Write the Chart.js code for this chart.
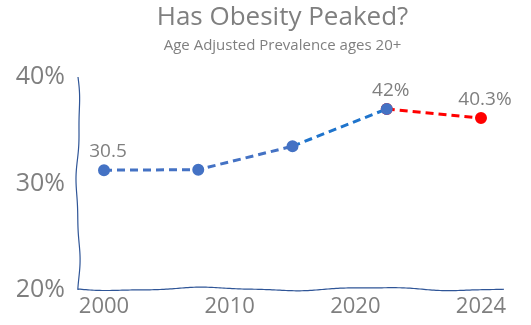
<!DOCTYPE html>
<html>
<head>
<meta charset="utf-8">
<script src="https://cdn.jsdelivr.net/npm/chart.js@4.4.1/dist/chart.umd.min.js"></script>
<style>
  html, body { margin: 0; padding: 0; background: #fff; overflow: hidden; }
  canvas { display: block; }
</style>
</head>
<body>
<canvas id="chart" width="531" height="325"></canvas>
<script>
// survey points
const surveyYears = ['2000', '2005', '2013', '2018', '2023'];
const blueValues = [30.5, 30.6, 35, 42, null];
const redValues = [null, null, null, 42, 40.3];
const pointLabels = ['30.5', '', '', '42%', '40.3%'];

// visible axis labels
const axisYears = ['2000', '2010', '2020', '2024'];
const axisPercents = [20, 30, 40];

const titleText = 'Has Obesity Peaked?';
const subtitleText = 'Age Adjusted Prevalence ages 20+';

const grey = '#7f7f7f';
const axisBlue = '#2f5597';
const fontFamily = '"Open Sans", "Noto Sans", sans-serif';

// wobbly hand-drawn axes, title and point labels
const sketchPlugin = {
    id: 'sketch',
    beforeDatasetsDraw: (chart) => {
        const { ctx, chartArea } = chart;
        const x0 = chartArea.left - 26;
        const x1 = chartArea.right + 24;
        const top = chartArea.top;
        const bottom = chartArea.bottom;
        ctx.save();
        ctx.strokeStyle = axisBlue;
        ctx.lineWidth = 1.2;
        ctx.beginPath();
        for (let y = top; y <= bottom; y += 2) {
            const dx = Math.sin((y - top) / 23) * 1.6 + Math.sin((y - top) / 9) * 0.5;
            if (y === top) ctx.moveTo(x0 + dx, y); else ctx.lineTo(x0 + dx, y);
        }
        ctx.lineTo(x0, bottom);
        for (let x = x0; x <= x1; x += 2) {
            const dy = Math.sin((x - x0) / 27) * 1.5 + Math.sin((x - x0) / 11) * 0.4;
            ctx.lineTo(x, bottom - 1 + dy);
        }
        ctx.stroke();
        ctx.restore();
    },
    afterDraw: (chart) => {
        const { ctx, chartArea } = chart;
        const cx = (chartArea.left + chartArea.right) / 2 - 10;
        ctx.save();
        ctx.fillStyle = grey;
        ctx.textAlign = 'center';
        ctx.textBaseline = 'middle';
        ctx.font = '26px ' + fontFamily;
        ctx.fillText(titleText, cx, 18);
        ctx.font = '15px ' + fontFamily;
        ctx.fillText(subtitleText, cx, 46);

        // value labels above points
        ctx.font = '19px ' + fontFamily;
        ctx.textBaseline = 'bottom';
        const metaBlue = chart.getDatasetMeta(0);
        const metaRed = chart.getDatasetMeta(1);
        pointLabels.forEach((txt, i) => {
            if (!txt) return;
            const el = redValues[i] !== null ? metaRed.data[i] : metaBlue.data[i];
            ctx.fillText(txt, el.x + 4, el.y - 9);
        });
        ctx.restore();
    }
};

new Chart(document.getElementById('chart'), {
    type: 'line',
    data: {
        labels: surveyYears,
        datasets: [{
            label: 'Prevalence',
            data: blueValues,
            yAxisID: 'yData',
            xAxisID: 'x',
            borderColor: '#4472c4',
            backgroundColor: '#4472c4',
            borderWidth: 3,
            borderDash: [8, 5],
            pointRadius: 4.5,
            pointHoverRadius: 4.5,
            tension: 0,
            segment: {
                borderColor: c => c.p0DataIndex === 2 ? '#1f74cc' : '#4472c4'
            }
        }, {
            label: 'Latest',
            data: redValues,
            yAxisID: 'yData',
            xAxisID: 'x',
            borderColor: '#ff0000',
            backgroundColor: '#ff0000',
            borderWidth: 3,
            borderDash: [8, 5],
            pointRadius: 4.5,
            pointHoverRadius: 4.5,
            tension: 0
        }]
    },
    options: {
        responsive: false,
        maintainAspectRatio: false,
        animation: false,
        layout: { padding: { top: 77, right: 50, left: 0, bottom: 0 } },
        plugins: {
            legend: { display: false },
            title: { display: false },
            tooltip: { enabled: false }
        },
        scales: {
            x: {
                type: 'category',
                display: false,
                offset: false
            },
            x2: {
                type: 'category',
                labels: axisYears,
                position: 'bottom',
                offset: false,
                border: { display: false },
                grid: { display: false },
                ticks: {
                    color: grey,
                    font: { family: fontFamily, size: 22 },
                    padding: -4,
                    maxRotation: 0,
                    autoSkip: false
                },
                afterFit: s => { s.height = 35; s.paddingLeft = 0; s.paddingRight = 0; }
            },
            y: {
                type: 'linear',
                position: 'left',
                min: 20,
                max: 40,
                border: { display: false },
                grid: { display: false },
                afterBuildTicks: s => { s.ticks = axisPercents.map(v => ({ value: v })); },
                ticks: {
                    color: grey,
                    font: { family: fontFamily, size: 25 },
                    padding: 31,
                    callback: v => v + '%'
                },
                afterFit: s => { s.width = 104; s.paddingTop = 0; s.paddingBottom = 0; }
            },
            yData: {
                type: 'linear',
                display: false,
                min: 8,
                max: 48
            }
        }
    },
    plugins: [sketchPlugin]
});
</script>
</body>
</html>
